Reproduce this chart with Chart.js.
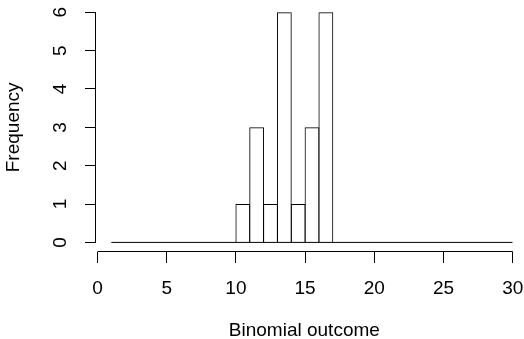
<!DOCTYPE html>
<html>
<head>
<meta charset="utf-8">
<script src="https://cdn.jsdelivr.net/npm/chart.js@4.4.1/dist/chart.umd.min.js"></script>
<style>
    html, body { margin: 0; padding: 0; background: #fff; }
    #wrap { width: 524px; height: 339px; }
</style>
</head>
<body>
<div id="wrap"><canvas id="histograma" width="524" height="339"></canvas></div>
<script>
const breaks = [1, 2, 3, 4, 5, 6, 7, 8, 9, 10, 11, 12, 13, 14, 15, 16, 17, 18, 19, 20, 21, 22, 23, 24, 25, 26, 27, 28, 29, 30];
const counts = [0, 0, 0, 0, 0, 0, 0, 0, 0, 1, 3, 1, 6, 1, 3, 6, 0, 0, 0, 0, 0, 0, 0, 0, 0, 0, 0, 0, 0];
const xTicks = [0, 5, 10, 15, 20, 25, 30];
const yTicks = [0, 1, 2, 3, 4, 5, 6];
const xTitulo = 'Binomial outcome';
const yTitulo = 'Frequency';

const fonte = { family: '"Liberation Sans", Arial, sans-serif', size: 19 };

// eixos no estilo do R: linha só do primeiro ao último tick
const eixosR = {
    id: 'eixosR',
    afterDraw(chart) {
        const { ctx, chartArea, scales: { x, y } } = chart;
        ctx.save();
        ctx.strokeStyle = '#000';
        ctx.lineWidth = 1;
        ctx.beginPath();
        const yBase = chartArea.bottom - 0.5;
        ctx.moveTo(x.getPixelForValue(xTicks[0]), yBase);
        ctx.lineTo(x.getPixelForValue(xTicks[xTicks.length - 1]), yBase);
        const xBase = chartArea.left - 0.5;
        ctx.moveTo(xBase, y.getPixelForValue(yTicks[0]));
        ctx.lineTo(xBase, y.getPixelForValue(yTicks[yTicks.length - 1]));
        ctx.stroke();
        ctx.restore();
    }
};

function montarHistograma() {
    const barras = counts.map((c, i) => ({ x: (breaks[i] + breaks[i + 1]) / 2, y: c }));
    const base = [
        { x: breaks[0], y: 0 },
        { x: breaks[breaks.length - 1], y: 0 }
    ];

    new Chart(document.getElementById('histograma'), {
        type: 'bar',
        data: {
            datasets: [
                {
                    type: 'bar',
                    data: barras,
                    backgroundColor: 'rgba(0,0,0,0)',
                    borderColor: '#000',
                    borderWidth: 1,
                    barPercentage: 1.07,
                    categoryPercentage: 1,
                    grouped: false
                },
                {
                    type: 'line',
                    data: base,
                    borderColor: '#000',
                    borderWidth: 1,
                    pointRadius: 0,
                    fill: false
                }
            ]
        },
        options: {
            responsive: false,
            animation: false,
            layout: { padding: { top: 2.7, right: 11.3, left: 0, bottom: 0 } },
            plugins: {
                legend: { display: false },
                tooltip: { enabled: false }
            },
            scales: {
                x: {
                    type: 'linear',
                    min: -0.108,
                    max: 30,
                    offset: false,
                    afterBuildTicks: s => { s.ticks = xTicks.map(v => ({ value: v })); },
                    afterFit: s => { s.height = 87; s.paddingLeft = 0; s.paddingRight = 0; },
                    grid: { offset: false, drawOnChartArea: false, drawTicks: true, tickLength: 11, color: '#000' },
                    border: { display: false },
                    ticks: { color: '#000', font: fonte, padding: 14, maxRotation: 0, autoSkip: false },
                    title: { display: true, text: xTitulo, color: '#000', font: fonte, padding: { top: 0, bottom: -3 } }
                },
                y: {
                    type: 'linear',
                    min: -0.25,
                    max: 6.25,
                    afterBuildTicks: s => { s.ticks = yTicks.map(v => ({ value: v })); },
                    afterFit: s => { s.width = 96; s.paddingTop = 0; s.paddingBottom = 0; },
                    grid: { drawOnChartArea: false, drawTicks: true, tickLength: 11, color: '#000' },
                    border: { display: false },
                    ticks: { color: '#000', font: fonte, padding: 19, minRotation: 90, maxRotation: 90, crossAlign: 'center', autoSkip: false },
                    title: { display: true, text: yTitulo, color: '#000', font: fonte, padding: { top: 2.5, bottom: 0 } }
                }
            }
        },
        plugins: [eixosR]
    });
}

montarHistograma();
</script>
</body>
</html>
